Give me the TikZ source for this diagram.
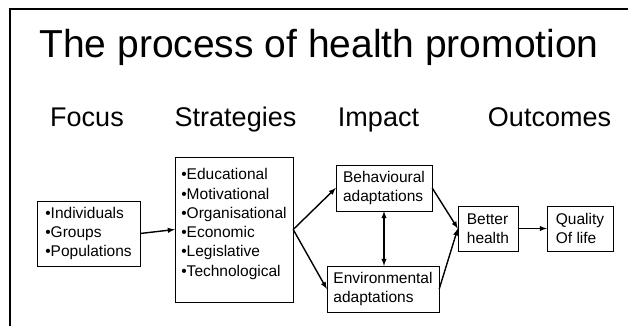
\documentclass[tikz,border=0pt]{standalone}
\usepackage{fontspec}
\setmainfont{Liberation Sans}
\usetikzlibrary{positioning,arrows}

\begin{document}
\begin{tikzpicture}
    [x=1pt,y=-1pt,>=latex,
     box/.style={draw, thin, align=left, inner sep=0pt, font=\fontsize{15.5}{19.3}\selectfont},
     head/.style={anchor=base, inner sep=0pt, font=\fontsize{27}{32}\selectfont},
     link/.style={->, line width=1.4pt}]
  \useasboundingbox (0,0) rectangle (628,326);
  \draw[line width=2.4pt] (10,326) -- (10,9) -- (628,9);

  \node[head, font=\fontsize{39}{46}\selectfont] (title) at (319,58) {The process of health promotion};
  \node[head] (h1) at (87,126) {Focus};
  \node[head] (h2) at (235.5,126) {Strategies};
  \node[head] (h3) at (378.5,126) {Impact};
  \node[head] (h4) at (549.5,126) {Outcomes};

  \node[box, minimum width=103pt, minimum height=65pt] (focus) at (88.5,233.5)
    {\textbullet Individuals\\ \textbullet Groups\\ \textbullet Populations};
  \node[box, minimum width=118pt, minimum height=145pt] (strat) at (234,229.5)
    {\textbullet Educational\\ \textbullet Motivational\\ \textbullet Organisational\\ \textbullet Economic\\
     \textbullet Legislative\\ \textbullet Technological\\[-5pt] \mbox{}};
  \node[box, minimum width=96pt, minimum height=46pt] (beh) at (384,188) {Behavioural\\ adaptations};
  \node[box, minimum width=112pt, minimum height=46pt] (env) at (383,289) {Environmental\\ adaptations};
  \node[box, minimum width=60pt, minimum height=45pt] (health) at (488,228.5) {Better\\ health};
  \node[box, minimum width=66pt, minimum height=45pt] (qol) at (580,228.5) {Quality\\ Of life};

  \foreach \from/\to in {focus/strat, strat/beh, strat/env, beh/health, env/health, health/qol}
    \draw[link] (\from.east) -- (\to.west);
  \draw[link, <->] (beh.south) -- (beh.south |- env.north);
\end{tikzpicture}
\end{document}
